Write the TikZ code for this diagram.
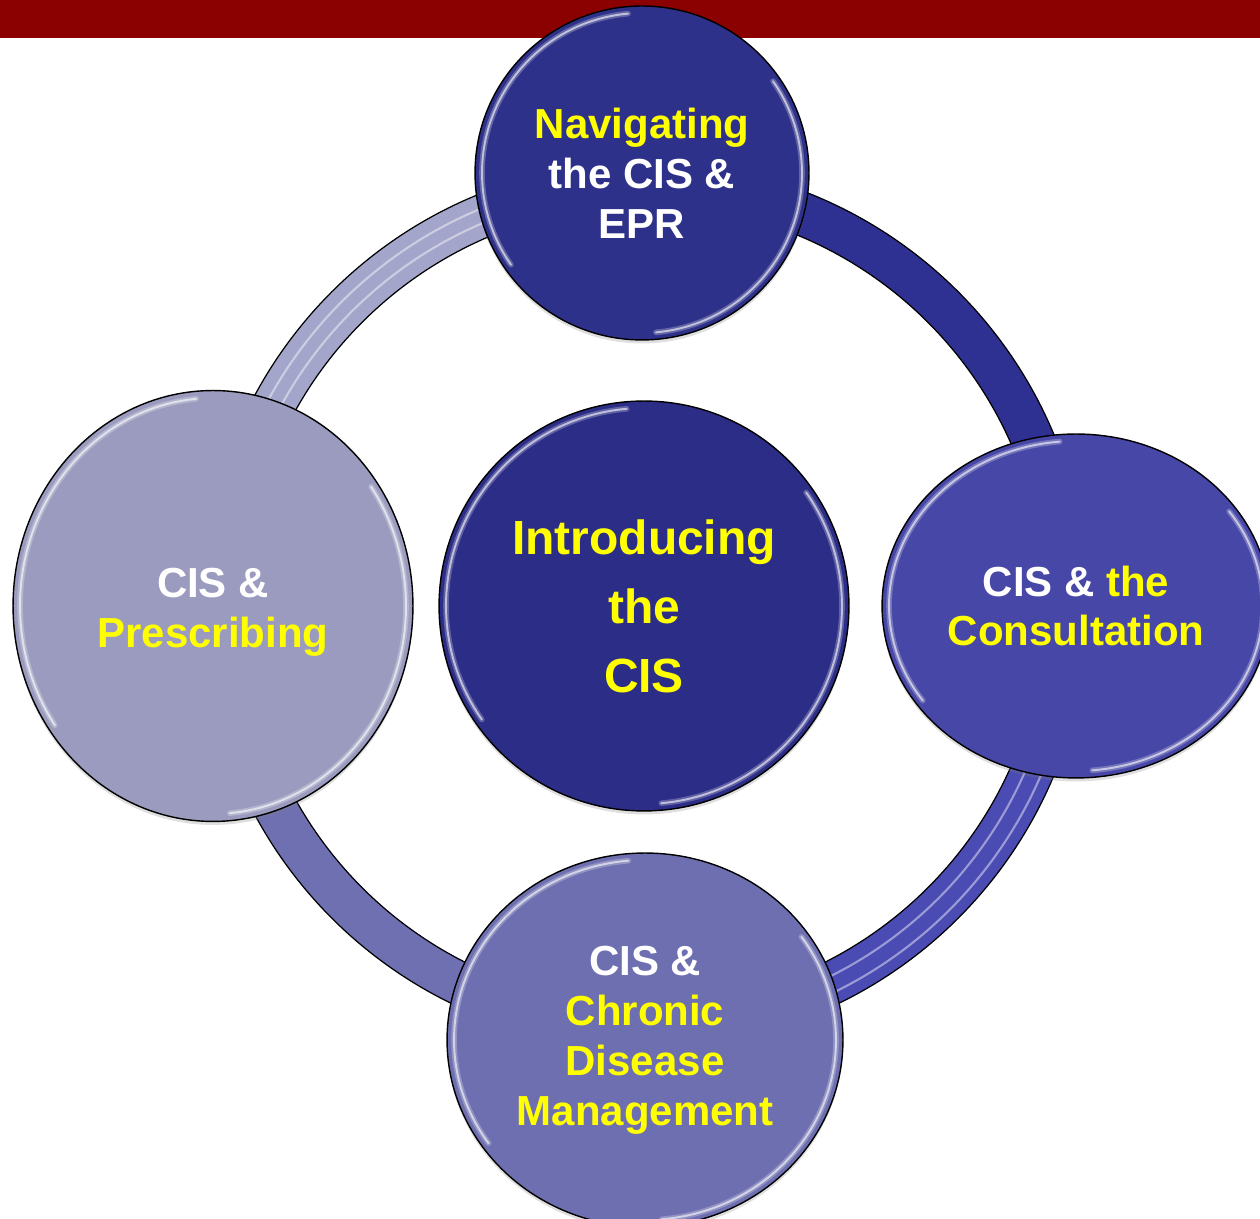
\documentclass[tikz,border=0pt]{standalone}
\usepackage{fontspec}
\setmainfont{Liberation Sans}
\usepackage{xcolor}
\usepackage{tikz}
\usetikzlibrary{shapes.geometric, shadows}
\definecolor{cisred}{HTML}{8B0000}
\definecolor{cisnavy}{HTML}{2E3189}
\definecolor{ciscore}{HTML}{2B2D87}
\definecolor{cisroyal}{HTML}{4647A6}
\definecolor{cislilac}{HTML}{9A9BBE}
\definecolor{cisperi}{HTML}{6E6FB0}
\definecolor{ringlilac}{HTML}{A3A5CA}
\definecolor{ringnavy}{HTML}{2E3192}
\definecolor{ringroyal}{HTML}{4A4BB3}
\definecolor{ringperi}{HTML}{6E70B2}
\definecolor{cisyellow}{HTML}{FFFF00}
\tikzset{
  topic/.style={ellipse, draw=black, line width=0.8pt, inner sep=0pt,
    align=center, text=white,
    font=\fontsize{23.9pt}{28.45pt}\selectfont\bfseries,
    drop shadow={shadow xshift=0pt, shadow yshift=-2pt, opacity=0.25}},
  bevelglow/.style={white, opacity=0.25, line width=3.2pt, line cap=round},
  bevelline/.style={white, opacity=0.6, line width=1.1pt, line cap=round},
  ringseg/.style={line width=0.86cm},
  ringshine/.style={white, opacity=0.45, line width=1.2pt}
}
% highlight arcs along the rim of a topic node
\newcommand{\bevelhl}[3]{%
  \foreach \hl in {bevelglow, bevelline} {
    \draw[\hl] (#1.center) ++(95:#2 and #3)
      arc[start angle=95, end angle=215, x radius=#2, y radius=#3];
    \draw[\hl] (#1.center) ++(275:#2 and #3)
      arc[start angle=275, end angle=395, x radius=#2, y radius=#3];
  }}
\newcommand{\yel}[1]{\textcolor{cisyellow}{#1}}
\begin{document}
\begin{tikzpicture}[x=0.02cm, y=0.02cm]
        \useasboundingbox (0,0) rectangle (1260,1219);
        \clip (0,0) rectangle (1260,1219);
        % Title bar
        \fill[cisred] (0,1181) rectangle (1260,1219);
        % Ring round the centre
        \coordinate (ctr) at (645,614);
        \draw[ringseg, ringnavy] (ctr) ++(0:8.43cm) arc (0:90:8.43cm);
        \draw[ringseg, ringlilac] (ctr) ++(90:8.43cm) arc (90:180:8.43cm);
        \draw[ringseg, ringperi] (ctr) ++(180:8.43cm) arc (180:270:8.43cm);
        \draw[ringseg, ringroyal] (ctr) ++(270:8.43cm) arc (270:360:8.43cm);
        \draw[ringshine] (ctr) ++(95:8.3cm) arc (95:175:8.3cm);
        \draw[ringshine] (ctr) ++(95:8.58cm) arc (95:175:8.58cm);
        \draw[ringshine] (ctr) ++(275:8.3cm) arc (275:355:8.3cm);
        \draw[ringshine] (ctr) ++(275:8.62cm) arc (275:355:8.62cm);
        \draw[black, line width=0.7pt] (ctr) circle (8.86cm);
        \draw[black, line width=0.7pt] (ctr) circle (8cm);
        % Topic circles
        \node[topic, fill=cislilac, minimum width=8cm, minimum height=8.62cm]
          (prescribing) at (213,613) {\rule{0pt}{0.82cm}CIS \&\\\yel{Prescribing}};
        \node[topic, fill=cisroyal, minimum width=7.76cm, minimum height=6.88cm]
          (consultation) at (1076,613) {CIS \& \yel{the}\\\yel{Consultation}};
        \node[topic, fill=cisperi, minimum width=7.92cm, minimum height=7.48cm]
          (chronic) at (645,179) {CIS \&\\\yel{Chronic}\\\yel{Disease}\\\yel{Management}};
        \node[topic, fill=cisnavy, minimum width=6.68cm, minimum height=6.68cm]
          (navigating) at (642,1046) {\yel{Navigating}\\the CIS \&\\EPR};
        \node[topic, fill=ciscore, minimum width=8.2cm, minimum height=8.2cm,
          font=\fontsize{27.3pt}{39.3pt}\selectfont\bfseries]
          (intro) at (644,613) {\yel{Introducing}\\\yel{the}\\\yel{CIS}};
        % Rim highlights
        \bevelhl{prescribing}{3.86cm}{4.16cm}
        \bevelhl{consultation}{3.74cm}{3.3cm}
        \bevelhl{chronic}{3.82cm}{3.6cm}
        \bevelhl{navigating}{3.2cm}{3.2cm}
        \bevelhl{intro}{3.96cm}{3.96cm}
      \end{tikzpicture}
\end{document}
